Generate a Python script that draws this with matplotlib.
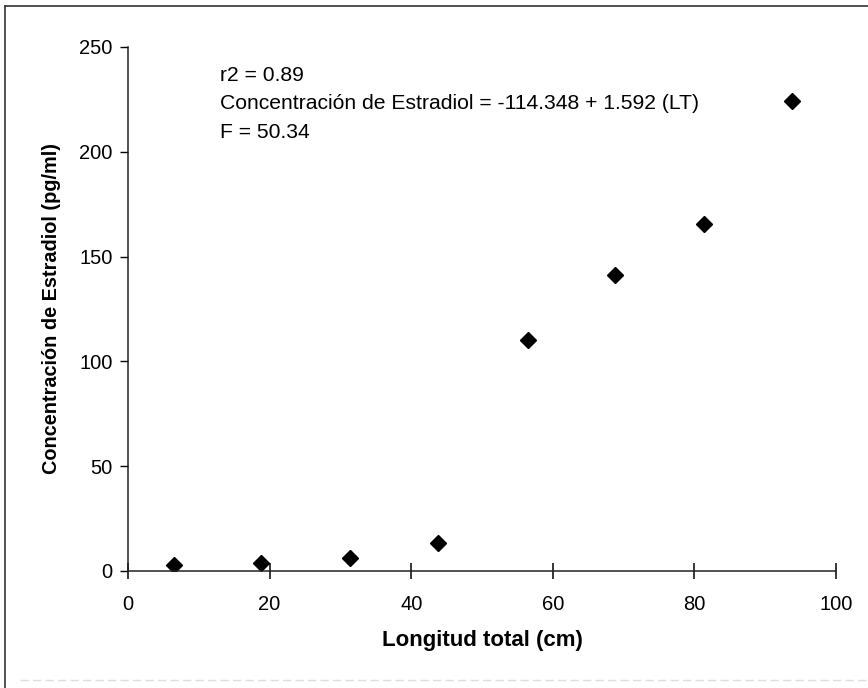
import matplotlib
matplotlib.use("Agg")
import matplotlib.pyplot as plt
from matplotlib.lines import Line2D

plt.rcParams['font.family'] = ['Liberation Sans', 'DejaVu Sans']

longitud = [6.5, 18.8, 31.3, 43.8, 56.5, 68.8, 81.4, 93.8]
estradiol = [3.0, 4.0, 6.0, 13.5, 110.0, 141.0, 165.5, 224.0]
x_ticks = [0, 20, 40, 60, 80, 100]
y_ticks = [0, 50, 100, 150, 200, 250]
annot_lines = ["r2 = 0.89",
               "Concentración de Estradiol = -114.348 + 1.592 (LT)",
               "F = 50.34"]

fig = plt.figure(figsize=(8.68, 6.88), dpi=100)
ax = fig.add_axes([128/868, 1-571/688, (836-128)/868, (571-47)/688])

ax.plot(longitud, estradiol, linestyle='none', marker='D', markersize=8.5,
        color='black')

ax.set_xlim(0, 100)
ax.set_ylim(0, 250)
ax.set_xticks(x_ticks)
ax.set_yticks(y_ticks)
for s in ['top', 'right']:
    ax.spines[s].set_visible(False)
for s in ['left', 'bottom']:
    ax.spines[s].set_linewidth(1.1)
    ax.spines[s].set_color('#222222')
ax.tick_params(axis='x', direction='inout', length=12, width=1.1, pad=11,
               labelsize=14.5)
ax.tick_params(axis='y', direction='out', length=6, width=1.0, pad=5,
               labelsize=14.5)

ax.set_xlabel("Longitud total (cm)", fontsize=16, fontweight='bold', labelpad=12)
ax.set_ylabel("Concentración de Estradiol (pg/ml)", fontsize=14.3,
              fontweight='bold', labelpad=13)

ys = [236.5, 223.0, 209.0]
for t, yy in zip(annot_lines, ys):
    ax.text(13.0, yy, t, fontsize=15.2, va='center', ha='left')

# scanned page frame
fig.add_artist(Line2D([5/868, 1.0], [1-6/688, 1-6/688], transform=fig.transFigure,
                      color='#333333', linewidth=1.2))
fig.add_artist(Line2D([5/868, 5/868], [0.0, 1-6/688], transform=fig.transFigure,
                      color='#333333', linewidth=1.2))
fig.add_artist(Line2D([20/868, 1.0], [1-680/688, 1-680/688], transform=fig.transFigure,
                      color='#dddddd', linewidth=1.0, linestyle=(0, (6, 3))))

fig.savefig("out.png", dpi=100)
